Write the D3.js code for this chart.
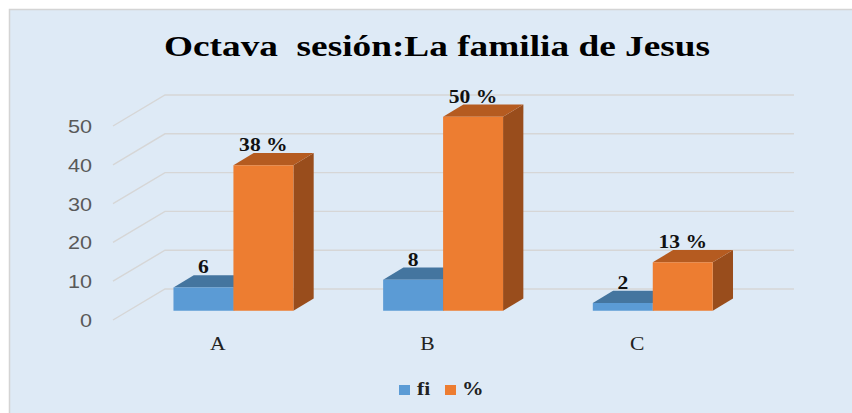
<!DOCTYPE html>
<html><head><meta charset="utf-8">
<script src="https://cdn.jsdelivr.net/npm/d3@7"></script>
<style>
html,body{margin:0;padding:0;background:#fff;}
svg{display:block;}
</style></head>
<body>
<svg id="c" width="852" height="413"></svg>
<script>
const categories = ["A","B","C"];
const seriesNames = ["fi","%"];
const fiValues = [6, 8, 2];
const pctValues = [37.5, 50, 12.5];
const pctLabels = ["38 %","50 %","13 %"];
const fiLabels = ["6","8","2"];
const yTicks = [0,10,20,30,40,50];
const titleText = "Octava  sesión:La familia de Jesus";

const colors = {fi:{front:"#5B9BD5", top:"#44759F", side:"#3E6A93"},
                "%":{front:"#ED7D31", top:"#B55B20", side:"#994D1C"}};

const svg = d3.select("#c");
const W = 852, H = 413;
const SX = 1.2; // horizontal stretch of the text

// frame
svg.append("rect").attr("x",9.5).attr("y",9.5).attr("width",W).attr("height",H)
  .attr("fill","#DEEAF6").attr("stroke","#D4D4D4").attr("stroke-width",1.5);

// 3D geometry
const backX0 = 165, backX1 = 794;
const depthDx = -52, depthDy = 31;
const barFront = 0.7, barBack = 0.31;
const proj = (x, y, d) => [x + d*depthDx, y + d*depthDy];

const y = d3.scaleLinear().domain([0,50]).range([289,95]);
const x0 = d3.scaleBand().domain(categories).range([backX0, backX1])
  .paddingInner(0.428).paddingOuter(0.214);
const x1 = d3.scaleBand().domain(seriesNames).range([0, x0.bandwidth()]);

// gridlines
const grid = svg.append("g");
yTicks.forEach(t => {
  const yb = y(t);
  const pts = [proj(backX0, yb, 1), proj(backX0, yb, 0), [backX1, yb]];
  grid.append("polyline").attr("points", pts.map(p=>p.join(",")).join(" "))
    .attr("fill","none").attr("stroke","#D6D6D6").attr("stroke-width",1.4);
});

// y axis labels on front plane
const yFront = d3.scaleLinear().domain(y.domain()).range(y.range().map(v=>v+depthDy));
const yAx = svg.append("g").attr("transform","translate(92,0)")
  .call(d3.axisLeft(yFront).tickValues(yTicks).tickSize(0).tickPadding(0));
yAx.select(".domain").remove();
yAx.selectAll("text").attr("font-family","Liberation Sans, Arial, sans-serif")
  .attr("font-size",18).attr("fill","#595959").attr("dy","0.36em")
  .attr("transform",`scale(${SX},1)`);

// bars
const data = categories.map((c,i)=>({cat:c, vals:[
  {s:"fi", v:fiValues[i], label:fiLabels[i]},
  {s:"%", v:pctValues[i], label:pctLabels[i]}]}));

const poly = (g, pts, fill) => g.append("polygon")
  .attr("points", pts.map(p=>p.join(",")).join(" ")).attr("fill", fill);

const bars = svg.append("g");
data.forEach(d => {
  d.vals.forEach(s => {
    const xa = x0(d.cat) + x1(s.s), xb = xa + x1.bandwidth();
    const yv = y(s.v), y0 = y(0);
    const c = colors[s.s];
    const g = bars.append("g");
    poly(g, [proj(xb,yv,barFront), proj(xb,yv,barBack), proj(xb,y0,barBack), proj(xb,y0,barFront)], c.side);
    poly(g, [proj(xa,yv,barFront), proj(xb,yv,barFront), proj(xb,yv,barBack), proj(xa,yv,barBack)], c.top);
    poly(g, [proj(xa,yv,barFront), proj(xb,yv,barFront), proj(xb,y0,barFront), proj(xa,y0,barFront)], c.front);
  });
});

// data labels
data.forEach(d => {
  d.vals.forEach(s => {
    const xc = proj(x0(d.cat) + x1(s.s) + x1.bandwidth()/2, 0, barFront)[0];
    const yl = proj(0, y(s.v), barBack)[1] - 2;
    svg.append("g").attr("transform",`translate(${xc},${yl}) scale(${SX},1)`)
      .append("text").attr("text-anchor","middle")
      .attr("font-family","Liberation Serif, 'Times New Roman', serif")
      .attr("font-weight","bold").attr("font-size",18).attr("fill","#111")
      .text(s.label);
  });
});

// category labels on the front plane
const xAx = svg.append("g").attr("transform",`translate(${depthDx},350)`)
  .call(d3.axisBottom(x0).tickSize(0).tickPadding(0));
xAx.select(".domain").remove();
xAx.selectAll("text").attr("font-family","Liberation Serif, 'Times New Roman', serif")
  .attr("font-size",18).attr("fill","#222").attr("dy",0).attr("y",0);
xAx.selectAll(".tick").each(function(){
  const t = d3.select(this); const tr = t.attr("transform");
  const m = /translate\(([-\d.]+),/.exec(tr);
  t.select("text").attr("x",0);
  t.attr("transform", `translate(${+m[1]},0) scale(${SX},1)`);
});

// title
svg.append("text").attr("x",437).attr("y",56).attr("text-anchor","middle")
  .attr("font-family","Liberation Serif, 'Times New Roman', serif")
  .attr("font-weight","bold").attr("font-size",30).attr("fill","#000")
  .style("white-space","pre").attr("xml:space","preserve")
  .attr("textLength",546).attr("lengthAdjust","spacingAndGlyphs")
  .text(titleText);

// legend
const leg = svg.append("g");
const legItems = [{s:"fi", x:399, tx:417},{s:"%", x:445, tx:462}];
legItems.forEach(it => {
  leg.append("rect").attr("x",it.x).attr("y",385).attr("width",11).attr("height",10)
    .attr("fill",colors[it.s].front);
  leg.append("g").attr("transform",`translate(${it.tx},395) scale(${SX},1)`)
    .append("text").attr("font-family","Liberation Serif, 'Times New Roman', serif")
    .attr("font-weight","bold").attr("font-size",18).attr("fill","#222").text(it.s);
});
</script>
</body></html>
